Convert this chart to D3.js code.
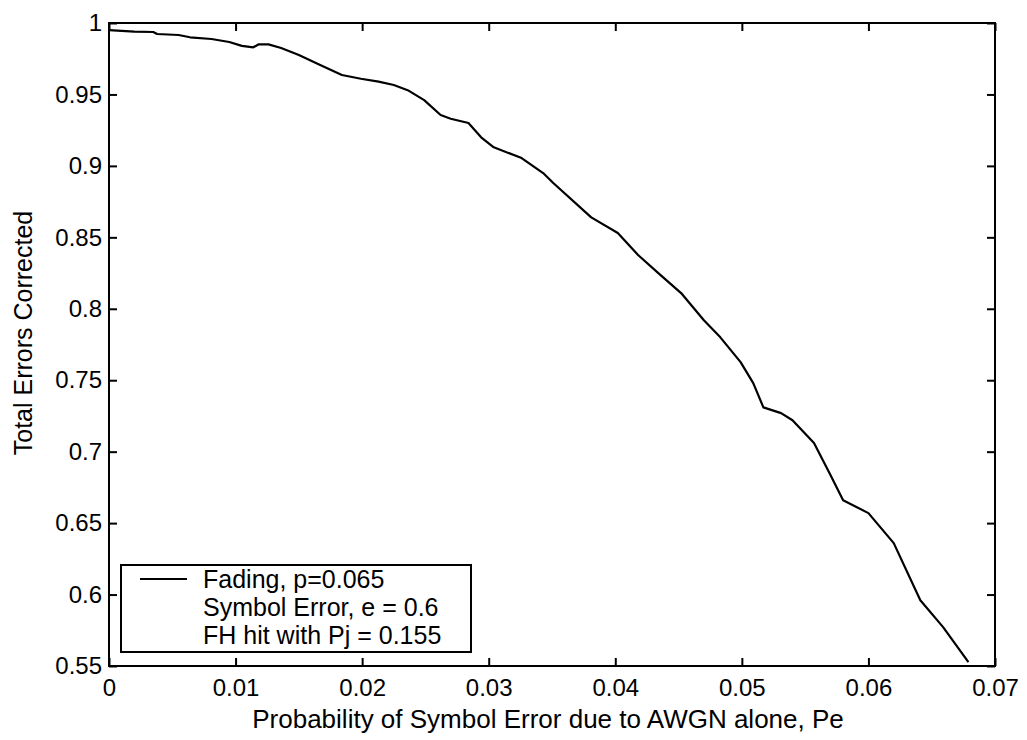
<!DOCTYPE html>
<html>
<head>
<meta charset="utf-8">
<script src="https://cdn.jsdelivr.net/npm/d3@7"></script>
<style>
  html, body { margin: 0; padding: 0; background: #fff; }
  svg { display: block; font-family: "Liberation Sans", Arial, sans-serif; }
</style>
</head>
<body>
<svg id="chart" width="1027" height="740"></svg>
<script>
// Probability of symbol error due to AWGN alone (Pe)
const pe = [
  0, 0.002, 0.0035, 0.0038, 0.0055, 0.0064, 0.0081, 0.0095, 0.0105, 0.0114,
  0.0118, 0.0126, 0.0136, 0.015, 0.0166, 0.0184, 0.0199, 0.0213, 0.0225, 0.0236,
  0.0249, 0.0262, 0.027, 0.0284, 0.0294, 0.0304, 0.0326, 0.0343, 0.0351, 0.0381,
  0.0402, 0.0418, 0.0434, 0.0452, 0.047, 0.0483, 0.0499, 0.0509, 0.0517, 0.0531,
  0.054, 0.0557, 0.057, 0.058, 0.060, 0.062, 0.0641, 0.0659, 0.0679
];
// Fraction of total errors corrected
const corrected = [
  0.995, 0.994, 0.9937, 0.9923, 0.9916, 0.990, 0.9888, 0.9867, 0.984, 0.983,
  0.985, 0.985, 0.9825, 0.9776, 0.971, 0.9636, 0.961, 0.959, 0.9566, 0.953,
  0.946, 0.9356, 0.933, 0.930, 0.920, 0.913, 0.9055, 0.895, 0.888, 0.864,
  0.853, 0.8376, 0.825, 0.811, 0.792, 0.780, 0.7627, 0.748, 0.731, 0.727,
  0.722, 0.706, 0.6836, 0.666, 0.657, 0.636, 0.596, 0.5772, 0.5527
];

const xTicks = [0, 0.01, 0.02, 0.03, 0.04, 0.05, 0.06, 0.07];
const xTickLabels = ["0", "0.01", "0.02", "0.03", "0.04", "0.05", "0.06", "0.07"];
const yTicks = [0.55, 0.6, 0.65, 0.7, 0.75, 0.8, 0.85, 0.9, 0.95, 1];
const yTickLabels = ["0.55", "0.6", "0.65", "0.7", "0.75", "0.8", "0.85", "0.9", "0.95", "1"];

const legendLines = ["Fading, p=0.065", "Symbol Error, e = 0.6", "FH hit with Pj = 0.155"];
const xTitle = "Probability of Symbol Error due to AWGN alone, Pe";
const yTitle = "Total Errors Corrected";

const svg = d3.select("#chart");
const m = { left: 109, right: 32, top: 23, bottom: 74 };
const W = 1027, H = 740;
const pw = W - m.left - m.right, ph = H - m.top - m.bottom;

const x = d3.scaleLinear().domain([0, 0.07]).range([m.left, m.left + pw]);
const y = d3.scaleLinear().domain([0.55, 1]).range([m.top + ph, m.top]);

const tickLen = 8;
const fontSize = 24;

// bottom axis, ticks pointing inward
const xAxis = d3.axisBottom(x).tickValues(xTicks)
  .tickFormat((d, i) => xTickLabels[i]).tickSizeInner(-tickLen).tickSizeOuter(0).tickPadding(13);
const gx = svg.append("g").attr("transform", `translate(0,${m.top + ph})`).call(xAxis);

// top axis mirror ticks
const gxt = svg.append("g").attr("transform", `translate(0,${m.top})`)
  .call(d3.axisTop(x).tickValues(xTicks).tickFormat("").tickSizeInner(-tickLen).tickSizeOuter(0));

// left axis
const yAxis = d3.axisLeft(y).tickValues(yTicks)
  .tickFormat((d, i) => yTickLabels[i]).tickSizeInner(-tickLen).tickSizeOuter(0).tickPadding(7);
const gy = svg.append("g").attr("transform", `translate(${m.left},0)`).call(yAxis);

// right axis mirror ticks
const gyr = svg.append("g").attr("transform", `translate(${m.left + pw},0)`)
  .call(d3.axisRight(y).tickValues(yTicks).tickFormat("").tickSizeInner(-tickLen).tickSizeOuter(0));

[gx, gxt, gy, gyr].forEach(g => {
  g.select(".domain").remove();
  g.selectAll(".tick line").attr("stroke", "#000").attr("stroke-width", 2);
  g.selectAll(".tick text").attr("fill", "#000").attr("font-size", fontSize)
    .attr("font-family", "'Liberation Sans', Arial, sans-serif");
});
gx.selectAll(".tick text").attr("dy", "0.71em");

// plot box
svg.append("rect")
  .attr("x", m.left).attr("y", m.top).attr("width", pw).attr("height", ph)
  .attr("fill", "none").attr("stroke", "#000").attr("stroke-width", 2);

// curve
const pts = pe.map((v, i) => [v, corrected[i]]);
svg.append("path")
  .datum(pts)
  .attr("fill", "none").attr("stroke", "#000").attr("stroke-width", 2.2)
  .attr("stroke-linejoin", "round")
  .attr("d", d3.line().x(d => x(d[0])).y(d => y(d[1])));

// axis titles
svg.append("text")
  .attr("x", m.left + pw / 2 - 4).attr("y", 728)
  .attr("text-anchor", "middle").attr("font-size", 26)
  .text(xTitle);

svg.append("text")
  .attr("transform", `translate(32,333) rotate(-90)`)
  .attr("text-anchor", "middle").attr("font-size", 25)
  .text(yTitle);

// legend
const lg = svg.append("g");
const lx = x(0) + 12, ly = 565, lw = 350, lh = 87;
lg.append("rect").attr("x", lx).attr("y", ly).attr("width", lw).attr("height", lh)
  .attr("fill", "#fff").attr("stroke", "#000").attr("stroke-width", 2);
lg.append("line").attr("x1", lx + 19).attr("x2", lx + 66)
  .attr("y1", ly + 14).attr("y2", ly + 14)
  .attr("stroke", "#000").attr("stroke-width", 2);
lg.selectAll("text.leg").data(legendLines).enter().append("text")
  .attr("class", "leg")
  .attr("x", lx + 82).attr("y", (d, i) => ly + 23 + i * 28)
  .attr("font-size", 25)
  .text(d => d);
</script>
</body>
</html>
